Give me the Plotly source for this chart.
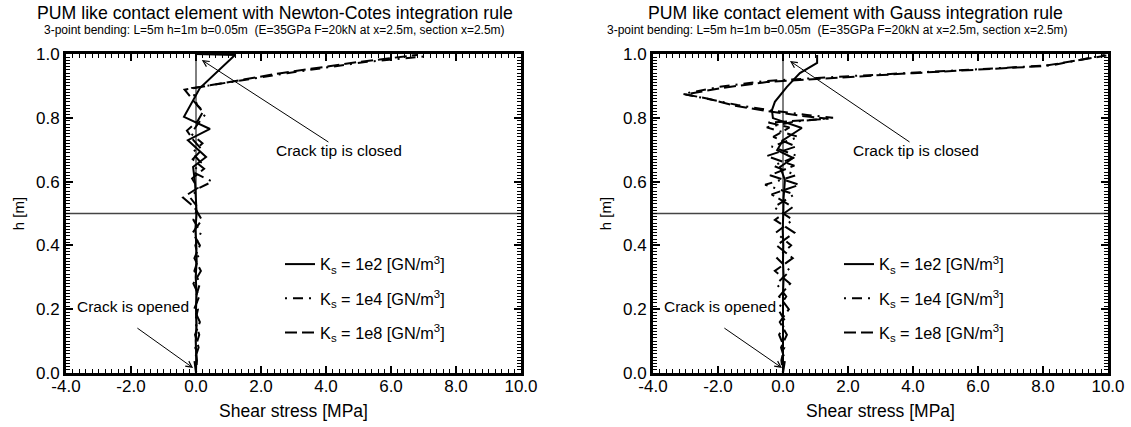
import plotly.graph_objects as go

# ---- Newton-Cotes integration (left panel) ----
nc_h_1e2 = [0.00, 0.05, 0.10, 0.15, 0.20, 0.25, 0.30, 0.35, 0.40, 0.45, 0.50, 0.55,
            0.596, 0.646, 0.677, 0.730, 0.765, 0.803, 0.893, 0.997, 1.000]
nc_x_1e2 = [0.00, 0.01, -0.01, 0.02, 0.00, 0.02, -0.01, 0.02, 0.01, -0.02, 0.02, 0.00,
            -0.03, -0.09, 0.31, -0.25, 0.43, -0.37, 0.12, 1.20, 0.00]

nc_h_1e4 = [0.00, 0.04, 0.08, 0.12, 0.16, 0.20, 0.24, 0.28, 0.32, 0.36, 0.40, 0.44, 0.48,
            0.52, 0.55, 0.58, 0.60, 0.63, 0.66, 0.69, 0.72, 0.75, 0.78, 0.81, 0.84, 0.865,
            0.893, 0.940, 0.975, 0.992]
nc_x_1e4 = [0.00, 0.03, -0.02, 0.10, -0.03, 0.06, 0.00, 0.12, -0.05, 0.08, -0.02, 0.15, -0.08,
            0.05, -0.18, 0.10, 0.50, -0.10, 0.15, -0.12, 0.20, -0.15, 0.05, 0.28, 0.03, -0.05,
            -0.12, 2.80, 5.20, 7.00]

nc_h_1e8 = [0.00, 0.04, 0.08, 0.12, 0.16, 0.20, 0.24, 0.28, 0.32, 0.36, 0.40, 0.44, 0.48,
            0.52, 0.55, 0.58, 0.61, 0.64, 0.67, 0.70, 0.73, 0.76, 0.79, 0.82, 0.85, 0.888,
            0.940, 0.975, 0.997]
nc_x_1e8 = [0.00, -0.05, 0.08, -0.03, 0.12, -0.06, 0.10, -0.08, 0.15, -0.05, 0.12, -0.10, 0.18,
            -0.05, -0.40, 0.05, -0.12, 0.25, -0.10, 0.18, -0.08, -0.28, 0.05, 0.22, -0.05, -0.35,
            2.60, 5.00, 6.80]

# ---- Gauss integration (right panel) ----
g_h_1e2 = [0.00, 0.05, 0.10, 0.15, 0.20, 0.25, 0.30, 0.35, 0.40, 0.45, 0.50, 0.55, 0.605,
           0.646, 0.674, 0.699, 0.730, 0.768, 0.799, 0.824, 0.850, 0.897, 0.940, 0.972, 0.997]
g_x_1e2 = [0.00, 0.00, 0.01, -0.01, 0.01, 0.00, 0.02, 0.00, 0.01, -0.01, 0.01, 0.02, 0.06,
           -0.09, 0.31, -0.18, 0.00, 0.58, -0.31, -0.34, -0.25, 0.12, 0.52, 1.05, 1.05]

g_h_1e4 = [0.00, 0.04, 0.08, 0.12, 0.16, 0.20, 0.24, 0.28, 0.32, 0.36, 0.40, 0.44, 0.48, 0.52,
           0.56, 0.59, 0.62, 0.65, 0.68, 0.71, 0.74, 0.77, 0.787, 0.800, 0.809, 0.824, 0.840,
           0.862, 0.875, 0.897, 0.915, 0.925, 0.943, 0.965, 0.997]
g_x_1e4 = [0.00, -0.05, 0.04, -0.12, 0.08, -0.15, 0.10, -0.20, 0.22, -0.18, 0.25, -0.22, 0.30,
           -0.28, 0.35, -0.55, 0.40, -0.30, 0.45, -0.35, 0.48, -0.50, 0.30, 1.54, 0.74, -0.40,
           -1.40, -2.40, -3.08, -1.94, -0.60, 1.05, 4.20, 8.30, 9.90]

g_h_1e8 = [0.00, 0.04, 0.08, 0.12, 0.16, 0.20, 0.24, 0.28, 0.32, 0.36, 0.40, 0.44, 0.48, 0.52,
           0.56, 0.59, 0.62, 0.65, 0.68, 0.71, 0.74, 0.77, 0.785, 0.797, 0.806, 0.821, 0.838,
           0.860, 0.873, 0.894, 0.912, 0.922, 0.940, 0.962, 0.995]
g_x_1e8 = [0.00, 0.06, -0.06, 0.12, -0.10, 0.18, -0.12, 0.22, -0.25, 0.30, -0.20, 0.35, -0.25,
           0.30, -0.35, 0.50, -0.40, 0.35, -0.50, 0.40, -0.30, 0.20, -0.45, 1.40, 0.60, -0.50,
           -1.50, -2.30, -3.00, -1.85, -0.50, 1.10, 4.00, 8.00, 9.95]

# tick positions and labels (plain hyphen for negatives)
x_tickvals = [-4, -2, 0, 2, 4, 6, 8, 10]
x_ticktext = ["-4.0", "-2.0", "0.0", "2.0", "4.0", "6.0", "8.0", "10.0"]
y_tickvals = [0.0, 0.2, 0.4, 0.6, 0.8, 1.0]
y_ticktext = ["0.0", "0.2", "0.4", "0.6", "0.8", "1.0"]

legend_names = ["K<sub>s</sub> = 1e2 [GN/m<sup>3</sup>]",
                "K<sub>s</sub> = 1e4 [GN/m<sup>3</sup>]",
                "K<sub>s</sub> = 1e8 [GN/m<sup>3</sup>]"]
# solid, dot-dash and long-dash patterns
dashes = ["solid", "2px,6px,10px,6px", "12px,5px"]

panel_titles = ["PUM like contact element with Newton-Cotes integration rule",
                "PUM like contact element with Gauss integration rule"]
subtitle = "3-point bending: L=5m h=1m b=0.05m  (E=35GPa F=20kN at x=2.5m, section x=2.5m)"

FONT = "Liberation Sans, Arial, sans-serif"
W, H = 1131, 427

fig = go.Figure()

panels = [
    ("x", "y", "legend", [(nc_x_1e2, nc_h_1e2), (nc_x_1e4, nc_h_1e4), (nc_x_1e8, nc_h_1e8)]),
    ("x2", "y2", "legend2", [(g_x_1e2, g_h_1e2), (g_x_1e4, g_h_1e4), (g_x_1e8, g_h_1e8)]),
]
for xa, ya, lg, series in panels:
    for i, (xs, hs) in enumerate(series):
        fig.add_trace(go.Scatter(
            x=xs, y=hs, mode="lines", xaxis=xa, yaxis=ya,
            name=legend_names[i], legend=lg, legendgroup=f"{lg}{i}",
            line=dict(color="black", width=2, dash=dashes[i]),
        ))

# plot-area geometry in pixels
px_left = [(66, 521), (653, 1108)]
py_top, py_bot = 54, 373
ydom = [1 - py_bot / H, 1 - py_top / H]

axis_common = dict(
    showgrid=False, zeroline=False, showline=True, linecolor="black", linewidth=3,
    mirror="ticks", ticks="inside", ticklen=7, tickwidth=1.5, tickcolor="black",
    automargin=False,
    tickfont=dict(family=FONT, size=17, color="black"),
)

for k, (l, r) in enumerate(px_left):
    sfx = "" if k == 0 else "2"
    fig.update_layout(**{
        f"xaxis{sfx}": dict(
            axis_common, domain=[l / W, r / W], range=[-4, 10],
            tickvals=x_tickvals, ticktext=x_ticktext, anchor=f"y{sfx}",
            ticklabelstandoff=-4,
            minor=dict(dtick=0.2, tick0=0, ticklen=4, ticks="inside", tickwidth=1,
                       tickcolor="black"),
            title=dict(text="Shear stress [MPa]", standoff=10,
                       font=dict(family=FONT, size=17.5, color="black")),
        ),
        f"yaxis{sfx}": dict(
            axis_common, domain=ydom, range=[0, 1],
            tickvals=y_tickvals, ticktext=y_ticktext, anchor=f"x{sfx}",
            minor=dict(dtick=0.01, tick0=0, ticklen=4, ticks="inside", tickwidth=1,
                       tickcolor="black"),
            title=dict(text="h [m]", standoff=8,
                       font=dict(family=FONT, size=15, color="black")),
        ),
    })
    xref, yref = f"x{sfx}", f"y{sfx}"
    # reference lines: x = 0 and mid-height h = 0.5
    fig.add_shape(type="line", xref=xref, yref=yref, x0=0, x1=0, y0=0, y1=1,
                  line=dict(color="black", width=1), layer="below")
    fig.add_shape(type="line", xref=f"{xref} domain", yref=yref, x0=0, x1=1, y0=0.5, y1=0.5,
                  line=dict(color="#444444", width=1.5), layer="below")

    # titles
    fig.add_annotation(text=panel_titles[k], xref="paper", yref="paper",
                       x=[275, 855][k] / W, y=1 - 13 / H, showarrow=False,
                       xanchor="center", yanchor="middle",
                       font=dict(family=FONT, size=17.7, color="black"))
    fig.add_annotation(text=subtitle, xref="paper", yref="paper",
                       x=[274, 837][k] / W, y=1 - 30 / H, showarrow=False,
                       xanchor="center", yanchor="middle",
                       font=dict(family=FONT, size=12, color="black"))

    # crack annotations: arrow and separate label
    head_tip = [(0.18, 0.981), (0.215, 0.978)][k]
    tail_tip = [(4.12, 0.721), (3.94, 0.721)][k]
    fig.add_annotation(xref=xref, yref=yref, axref=xref, ayref=yref,
                       x=head_tip[0], y=head_tip[1], ax=tail_tip[0], ay=tail_tip[1],
                       text="", showarrow=True, arrowhead=5, arrowsize=1.2, arrowwidth=1,
                       arrowcolor="black")
    fig.add_annotation(xref=xref, yref=yref, x=[4.4, 4.1][k], y=0.696,
                       text="Crack tip is closed", showarrow=False,
                       font=dict(family=FONT, size=15.5, color="black"))
    fig.add_annotation(xref=xref, yref=yref, axref=xref, ayref=yref,
                       x=[-0.09, -0.03][k], y=0.016, ax=-1.85, ay=0.144,
                       text="", showarrow=True, arrowhead=5, arrowsize=1.2, arrowwidth=1,
                       arrowcolor="black")
    fig.add_annotation(xref=xref, yref=yref, x=-1.94, y=0.21,
                       text="Crack is opened", showarrow=False,
                       font=dict(family=FONT, size=15.5, color="black"))

legend_common = dict(
    xanchor="left", yanchor="top", bgcolor="rgba(0,0,0,0)", borderwidth=0,
    font=dict(family=FONT, size=16.3, color="black"), tracegroupgap=10,
    itemwidth=30,
)
fig.update_layout(
    width=W, height=H, margin=dict(l=0, r=0, t=0, b=0, autoexpand=False),
    paper_bgcolor="white", plot_bgcolor="white", showlegend=True,
    legend=dict(legend_common, x=280 / W, y=1 - 247 / H),
    legend2=dict(legend_common, x=839 / W, y=1 - 247 / H),
)

fig.write_html("out.html")
